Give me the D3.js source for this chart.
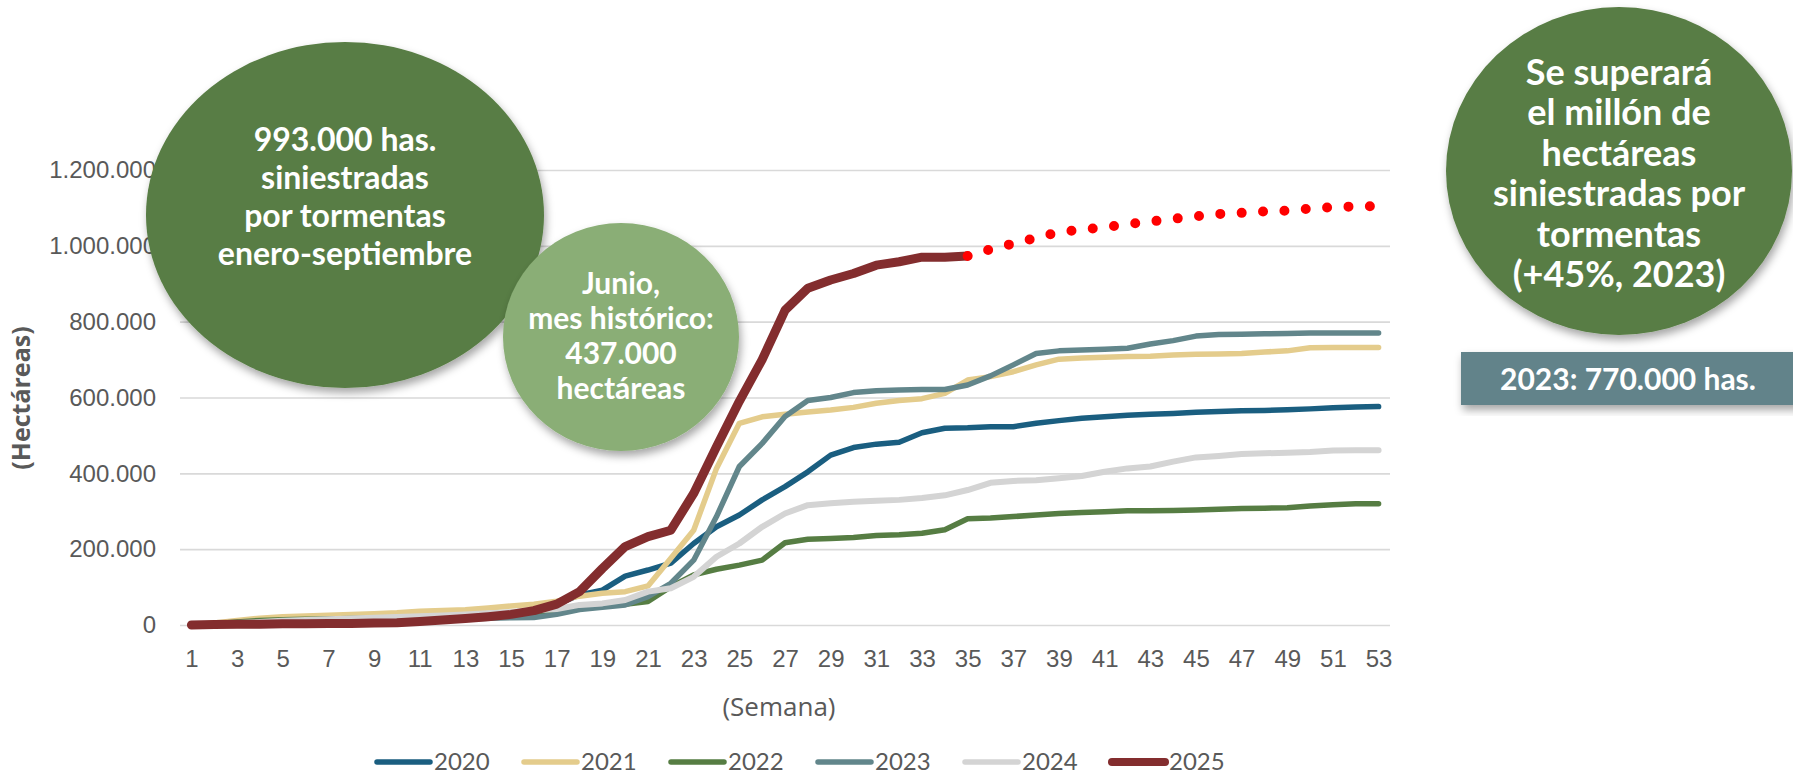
<!DOCTYPE html>
<html>
<head>
<meta charset="utf-8">
<script src="https://cdn.jsdelivr.net/npm/d3@7"></script>
<style>
  body { margin: 0; background: #fff; }
  svg { display: block; font-family: Lato, "Open Sans", sans-serif; }
  .axis text { fill: #595959; font-size: 24px; }
  .bubble-text { fill: #fff; font-weight: bold; text-anchor: middle; }
</style>
</head>
<body>
<svg id="chart" width="1793" height="776"></svg>
<script>
// Weeks (categories)
const weeks = [1,2,3,4,5,6,7,8,9,10,11,12,13,14,15,16,17,18,19,20,21,22,23,24,25,26,27,
  28,29,30,31,32,33,34,35,36,37,38,39,40,41,42,43,44,45,46,47,48,49,50,51,52,53];

const yTicks = [0, 200000, 400000, 600000, 800000, 1000000, 1200000];
const xTickWeeks = weeks.filter((d, i) => i % 2 === 0);

// Cumulative hectares per week
const s2020 = [0,2000,5000,8000,10000,12000,13000,14000,15000,17000,19000,21000,23000,26000,30000,36000,55000,
  79000,92000,129000,145000,163000,215000,259000,290000,330000,365000,404000,448000,468000,477000,482000,
  507000,519000,520000,523000,523000,532000,539000,545000,549000,553000,556000,558000,561000,563000,565000,
  566000,568000,570000,573000,575000,576000];
const s2021 = [0,5000,12000,18000,22000,24000,26000,28000,30000,32000,36000,38000,40000,45000,50000,55000,63000,
  76000,84000,88000,103000,176000,250000,413000,532000,549000,556000,562000,567000,574000,585000,592000,
  597000,611000,646000,655000,668000,686000,701000,704000,706000,708000,709000,712000,714000,715000,716000,
  720000,723000,731000,732000,732000,732000];
const s2022 = [0,3000,8000,12000,14000,15000,16000,17000,17000,18000,19000,20000,21000,23000,25000,27000,31000,
  44000,50000,55000,62000,101000,132000,147000,158000,171000,217000,226000,228000,231000,236000,238000,
  242000,251000,280000,282000,286000,290000,294000,297000,299000,301000,301000,302000,303000,305000,307000,
  308000,309000,314000,317000,320000,320000];
const s2023 = [0,1000,2000,4000,5000,6000,7000,8000,9000,10000,12000,14000,16000,18000,19000,20000,28000,
  41000,47000,53000,75000,110000,171000,286000,418000,479000,550000,592000,600000,613000,618000,620000,
  621000,621000,633000,657000,686000,716000,723000,725000,727000,730000,741000,750000,762000,766000,767000,
  768000,769000,770000,770000,770000,770000];
const s2024 = [0,2000,5000,8000,11000,13000,15000,17000,19000,21000,23000,25000,28000,31000,34000,38000,42000,
  53000,57000,66000,88000,97000,127000,180000,215000,259000,294000,316000,321000,325000,328000,330000,
  335000,342000,356000,375000,380000,382000,387000,393000,404000,413000,418000,431000,442000,446000,451000,
  453000,454000,456000,460000,461000,461000];
const s2025 = [0,1000,2000,2000,3000,3000,4000,4000,5000,6000,9000,13000,17000,22000,28000,38000,55000,
  88000,149000,207000,233000,250000,347000,470000,590000,700000,830000,888000,910000,927000,949000,958000,
  970000,970000,973000];

// Projection 2025, weeks 35-53
const projWeeks = [35,36,37,38,39,40,41,42,43,44,45,46,47,48,49,50,51,52,53];
const projValues = [973000,991000,1006000,1021000,1036000,1043000,1049000,1057000,1064000,1071000,1078000,
  1084000,1087000,1091000,1093000,1098000,1102000,1104000,1105000];

const seriesNames = ['2020', '2021', '2022', '2023', '2024', '2025'];
const seriesValues = [s2020, s2021, s2022, s2023, s2024, s2025];
const seriesColors = ['#1a5e80', '#e4cc8c', '#567d43', '#62868b', '#d4d4d4', '#832d2e'];
const seriesWidths = [5.5, 5.5, 5.5, 5.5, 6, 9];

const svg = d3.select('#chart');

// drop shadow for the bubbles
const defs = svg.append('defs');
defs.append('filter')
  .attr('id', 'shadow')
  .attr('x', '-20%').attr('y', '-20%').attr('width', '140%').attr('height', '140%')
  .append('feDropShadow')
  .attr('dx', 2).attr('dy', 5).attr('stdDeviation', 4)
  .attr('flood-color', '#000').attr('flood-opacity', 0.35);

const plot = {left: 180, right: 1390, top: 170, bottom: 625};

const x = d3.scalePoint().domain(weeks).range([plot.left, plot.right]).padding(0.5);
const y = d3.scaleLinear().domain([0, 1200000]).range([plot.bottom, plot.top]);

const es = d3.formatLocale({decimal: ',', thousands: '.', grouping: [3], currency: ['', '']});
const fmt = es.format(',');

// y axis + gridlines
const yAxis = d3.axisLeft(y)
  .tickValues(yTicks)
  .tickFormat(fmt)
  .tickSize(-(plot.right - plot.left))
  .tickPadding(24);

const gy = svg.append('g')
  .attr('class', 'axis')
  .attr('transform', 'translate(' + plot.left + ',0)')
  .call(yAxis);
gy.select('.domain').remove();
gy.selectAll('.tick line').attr('stroke', '#d9d9d9').attr('stroke-width', 1.6);

// x axis
const xAxis = d3.axisBottom(x)
  .tickValues(xTickWeeks)
  .tickSize(0)
  .tickPadding(25);

const gx = svg.append('g')
  .attr('class', 'axis')
  .attr('transform', 'translate(0,' + plot.bottom + ')')
  .call(xAxis);
gx.select('.domain').remove();

// axis titles
svg.append('text')
  .attr('x', 779).attr('y', 716)
  .attr('text-anchor', 'middle')
  .style('font-family', '"Open Sans", sans-serif')
  .style('font-size', '26px').style('fill', '#595959')
  .text('(Semana)');

svg.append('text')
  .attr('transform', 'translate(30,398) rotate(-90)')
  .attr('text-anchor', 'middle')
  .style('font-family', '"Open Sans", sans-serif')
  .style('font-size', '25px').style('font-weight', 'bold').style('fill', '#595959')
  .text('(Hectáreas)');

// lines
const line = d3.line()
  .x((d, i) => x(weeks[i]))
  .y(d => y(d));

svg.append('g').selectAll('path')
  .data(seriesValues)
  .enter()
  .append('path')
  .attr('d', d => line(d))
  .attr('fill', 'none')
  .attr('stroke', (d, i) => seriesColors[i])
  .attr('stroke-width', (d, i) => seriesWidths[i])
  .attr('stroke-linejoin', 'round')
  .attr('stroke-linecap', 'round');

// projection, dotted
const projLine = d3.line()
  .x((d, i) => x(projWeeks[i]))
  .y(d => y(d));

svg.append('path')
  .attr('d', projLine(projValues))
  .attr('fill', 'none')
  .attr('stroke', '#f00')
  .attr('stroke-width', 10)
  .attr('stroke-linecap', 'round')
  .attr('stroke-dasharray', '0 21.4');

// legend
const legend = svg.append('g').attr('transform', 'translate(377,762)');
const items = legend.selectAll('g')
  .data(seriesNames)
  .enter()
  .append('g')
  .attr('transform', (d, i) => 'translate(' + (i * 147) + ',0)');

items.append('line')
  .attr('x1', 0).attr('x2', 53)
  .attr('stroke', (d, i) => seriesColors[i])
  .attr('stroke-width', (d, i) => i === 5 ? 8 : 5.5)
  .attr('stroke-linecap', 'round');

items.append('text')
  .attr('x', 57).attr('dy', '0.35em')
  .style('font-size', '24px').style('fill', '#595959')
  .text(d => d);

// bubbles
function bubble(cx, cy, rx, ry, color, lines, fontSize, lineGap, firstY) {
  svg.append('ellipse')
    .attr('cx', cx).attr('cy', cy).attr('rx', rx).attr('ry', ry)
    .attr('fill', color)
    .attr('filter', 'url(#shadow)');
  svg.append('text')
    .attr('class', 'bubble-text')
    .style('font-size', fontSize + 'px')
    .selectAll('tspan')
    .data(lines)
    .enter()
    .append('tspan')
    .attr('x', cx)
    .attr('y', (d, i) => firstY + i * lineGap)
    .attr('dy', '0.35em')
    .text(d => d);
}

bubble(345, 215, 199, 173, '#587d44',
  ['993.000 has.', 'siniestradas', 'por tormentas', 'enero-septiembre'], 32, 38, 140);

bubble(621, 337, 118, 114, '#8aae76',
  ['Junio,', 'mes histórico:', '437.000', 'hectáreas'], 30, 35, 283);

bubble(1619, 171, 173, 164, '#587d44',
  ['Se superará', 'el millón de', 'hectáreas', 'siniestradas por', 'tormentas', '(+45%, 2023)'], 36, 40.5, 72);

// 2023 box
svg.append('rect')
  .attr('x', 1461).attr('y', 352).attr('width', 340).attr('height', 53)
  .attr('fill', '#62838a')
  .attr('filter', 'url(#shadow)');

svg.append('text')
  .attr('class', 'bubble-text')
  .attr('x', 1628).attr('y', 379).attr('dy', '0.35em')
  .style('font-size', '30px')
  .text('2023: 770.000 has.');
</script>
</body>
</html>
